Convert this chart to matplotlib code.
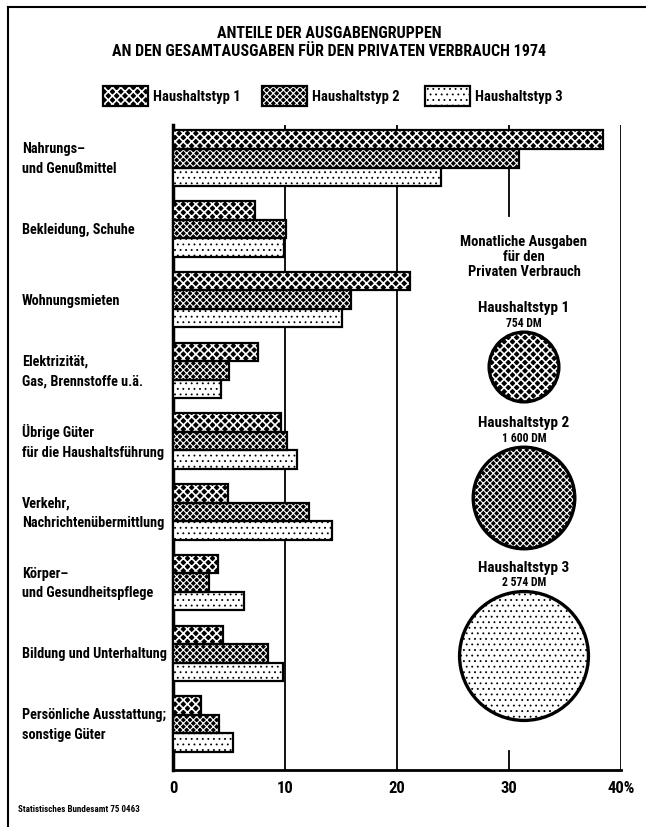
import numpy as np
import matplotlib
matplotlib.use("Agg")
import matplotlib.pyplot as plt
import matplotlib.transforms as mtransforms
from matplotlib.patches import Rectangle, Circle
from matplotlib.lines import Line2D

# --- data ---
categories = ["Nahrungs–\nund Genußmittel", "Bekleidung, Schuhe", "Wohnungsmieten",
              "Elektrizität,\nGas, Brennstoffe u.ä.", "Übrige Güter\nfür die Haushaltsführung",
              "Verkehr,\nNachrichtenübermittlung", "Körper–\nund Gesundheitspflege",
              "Bildung und Unterhaltung", "Persönliche Ausstattung;\nsonstige Güter"]
typ1 = [38.4, 7.3, 21.2, 7.6, 9.6, 4.9, 4.0, 4.5, 2.5]
typ2 = [30.9, 10.1, 15.9, 5.0, 10.2, 12.1, 3.2, 8.5, 4.1]
typ3 = [23.9, 9.9, 15.1, 4.3, 11.1, 14.2, 6.3, 9.8, 5.4]
series_names = ["Haushaltstyp 1", "Haushaltstyp 2", "Haushaltstyp 3"]
monthly_dm = [754, 1600, 2574]
dm_labels = ["754 DM", "1 600 DM", "2 574 DM"]
xticks = [0, 10, 20, 30, 40]
xticklabels = ["0", "10", "20", "30", "40%"]

FONT = ['Roboto Condensed', 'Roboto', 'DejaVu Sans']
plt.rcParams['font.family'] = FONT
plt.rcParams['font.weight'] = 'bold'

# face colour, hatch colour, hatch pattern, hatch line width for each household type
styles = [("black", "white", "xxxx", 1.2), ("black", "white", "xxxxx", 0.8), ("white", "black", "...", 0.6)]


def hatched(make, k, **kw):
    # the hatch line width is picked up from rcParams when the patch is made
    face, hcol, hatch, hlw = styles[k]
    with plt.rc_context({'hatch.linewidth': hlw}):
        return make(facecolor=face, edgecolor=hcol, hatch=hatch, linewidth=0, **kw)


fig = plt.figure(figsize=(6.46, 8.28), dpi=100)
ax = fig.add_axes([173 / 646, 1 - 771 / 828, 448 / 646, 645 / 828])

bh = 0.262
y = np.arange(len(categories))
for k, vals in enumerate([typ1, typ2, typ3]):
    yy = y + (k - 1) * bh
    hatched(lambda **kw: ax.barh(yy, vals, height=bh, zorder=3, **kw), k)
    ax.barh(yy, vals, height=bh, fill=False, edgecolor="black", linewidth=1.6, zorder=4)

ax.set_xlim(0, 40)
ax.set_ylim(8.65, -0.47)

# --- grid lines, the 30 line is hidden behind the circle panel ---
for gx in [10, 20, 40]:
    ax.axvline(gx, color="black", lw=1.3, zorder=1)
ax.axvline(30, ymin=0, ymax=0.03, color="black", lw=1.3, zorder=1)
ax.axvline(30, ymin=0.859, ymax=1, color="black", lw=1.3, zorder=1)

for s in ["top", "right"]:
    ax.spines[s].set_visible(False)
ax.spines["left"].set_linewidth(2.5)
ax.spines["bottom"].set_linewidth(2)
ax.set_yticks([])
ax.set_xticks(xticks, xticklabels)
ax.tick_params(axis="x", length=0, pad=7, labelsize=12)

# category labels at the far left
lab_tr = mtransforms.blended_transform_factory(fig.transFigure, ax.transData)
for i, c in enumerate(categories):
    ax.text(22 / 646, i, c, transform=lab_tr, ha="left", va="center",
            fontsize=10.3, linespacing=1.5)

# --- title ---
fig.text(0.51, 1 - 33 / 828, "ANTEILE DER AUSGABENGRUPPEN", ha="center", va="center", fontsize=11.5)
fig.text(0.51, 1 - 52 / 828, "AN DEN GESAMTAUSGABEN FÜR DEN PRIVATEN VERBRAUCH 1974",
         ha="center", va="center", fontsize=11.5)

# --- legend ---
inch = fig.dpi_scale_trans
leg_x = [1.03, 2.62, 4.25]
for k, name in enumerate(series_names):
    fig.add_artist(hatched(lambda **kw: Rectangle((leg_x[k], 7.21), 0.45, 0.20, transform=inch, **kw), k))
    fig.add_artist(Rectangle((leg_x[k], 7.21), 0.45, 0.20, transform=inch, fill=False,
                             edgecolor="black", linewidth=1.6))
    fig.text(leg_x[k] + 0.50, 7.31, name, transform=inch, ha="left", va="center", fontsize=10.5)

# --- circles for monthly spending ---
cx = 5.24
circle_y = [(828 - 368) / 100, (828 - 499) / 100, (828 - 657) / 100]
kr = 0.0127
fig.text(cx, (828 - 257) / 100, "Monatliche Ausgaben\nfür den\nPrivaten Verbrauch", transform=inch,
         ha="center", va="center", fontsize=10.5, linespacing=1.1)
for k, dm in enumerate(monthly_dm):
    r = kr * np.sqrt(dm)
    cy = circle_y[k]
    fig.add_artist(hatched(lambda **kw: Circle((cx, cy), r, transform=inch, **kw), k))
    fig.add_artist(Circle((cx, cy), r, transform=inch, fill=False, edgecolor="black", linewidth=2.4))
    fig.text(cx, cy + r + 0.25, series_names[k], transform=inch, ha="center", va="center", fontsize=11)
    fig.text(cx, cy + r + 0.10, dm_labels[k], transform=inch, ha="center", va="center", fontsize=8.5)

# --- frame and source ---
fig.add_artist(Line2D([8 / 646, 8 / 646], [0, 1 - 8 / 828], transform=fig.transFigure, color="black", lw=1.5))
fig.add_artist(Line2D([8 / 646, 1], [1 - 8 / 828, 1 - 8 / 828], transform=fig.transFigure, color="black", lw=1.5))
fig.text(18 / 646, 1 - 810 / 828, "Statistisches Bundesamt 75 0463", ha="left", va="center", fontsize=6.5)

fig.savefig("out.png", dpi=100, facecolor="white")
